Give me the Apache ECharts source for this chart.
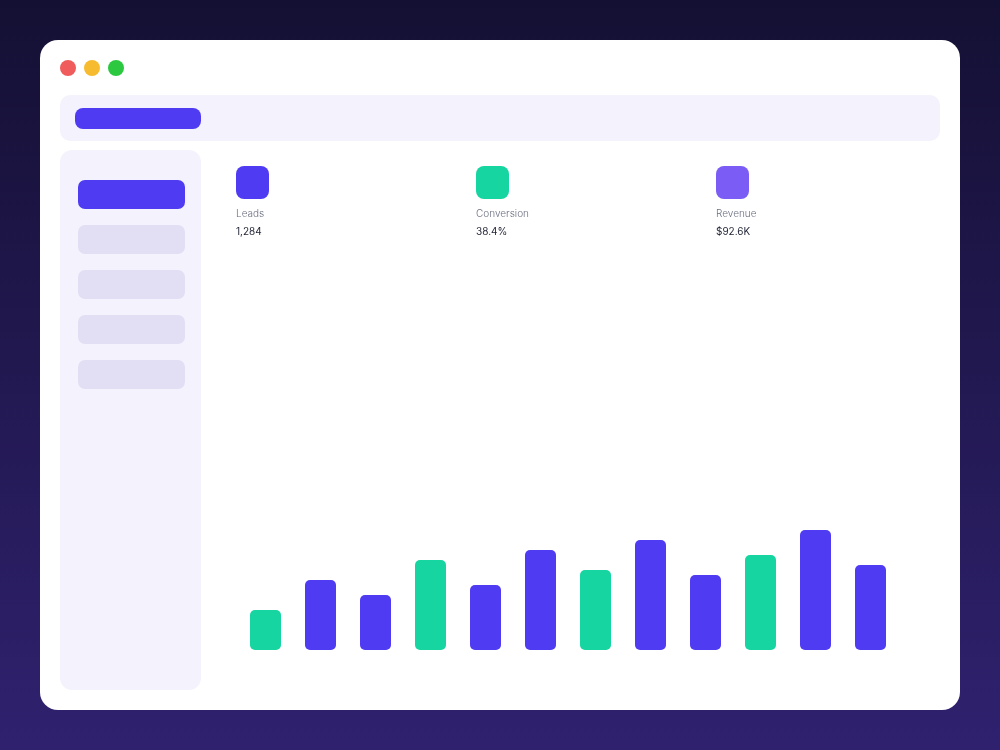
<!DOCTYPE html>
<html>
<head>
<meta charset="utf-8">
<script src="https://cdn.jsdelivr.net/npm/echarts@6/dist/echarts.min.js"></script>
<style>html,body{margin:0;padding:0;}#chart{width:1000px;height:750px;}</style>
</head>
<body>
<div id="chart"></div>
<script>
// bar data
var months = ['1', '2', '3', '4', '5', '6', '7', '8', '9', '10', '11', '12'];
var values = [40, 70, 55, 90, 65, 100, 80, 110, 75, 95, 120, 85];
// stat cards
var statLabels = ['Leads', 'Conversion', 'Revenue'];
var statValues = ['1,284', '38.4%', '$92.6K'];
var statColors = ['#4f3cf2', '#16d5a0', '#7b5cf5'];

var BLUE = '#4f3cf2', GREEN = '#16d5a0';

var graphic = [
    { type: 'rect', shape: { x: 40, y: 40, width: 920, height: 670, r: 18 }, style: { fill: '#ffffff' }, z: 0 },
    { type: 'circle', shape: { cx: 68, cy: 68, r: 8 }, style: { fill: '#f05b5b' } },
    { type: 'circle', shape: { cx: 92, cy: 68, r: 8 }, style: { fill: '#f6bb2f' } },
    { type: 'circle', shape: { cx: 116, cy: 68, r: 8 }, style: { fill: '#2cc840' } },
    { type: 'rect', shape: { x: 60, y: 95, width: 880, height: 46, r: 10 }, style: { fill: '#f4f3fd' } },
    { type: 'rect', shape: { x: 75, y: 108, width: 126, height: 21, r: 8 }, style: { fill: BLUE } },
    { type: 'rect', shape: { x: 60, y: 150, width: 141, height: 540, r: 12 }, style: { fill: '#f4f3fd' } }
];
for (var i = 0; i < 5; i++) {
    graphic.push({ type: 'rect', shape: { x: 78, y: 180 + i * 45, width: 107, height: 29, r: 7 },
        style: { fill: i === 0 ? BLUE : '#e2dff5' } });
}
statLabels.forEach(function(l, i) {
    var x = 236 + i * 240;
    graphic.push({ type: 'rect', shape: { x: x, y: 166, width: 33, height: 33, r: 8 }, style: { fill: statColors[i] } });
    graphic.push({ type: 'text', x: x, y: 209, style: { text: l, fill: '#6b6f80', font: '300 10px Inter' } });
    graphic.push({ type: 'text', x: x, y: 227, style: { text: statValues[i], fill: '#1f2233', font: '10px Inter' } });
});

var option = {
    backgroundColor: {
        type: 'linear', x: 0, y: 0, x2: 0, y2: 1,
        colorStops: [{ offset: 0, color: '#141033' }, { offset: 1, color: '#30216f' }]
    },
    graphic: graphic,
    grid: { left: 238, width: 660, top: 250, height: 400 },
    xAxis: { type: 'category', data: months, show: false },
    yAxis: { type: 'value', min: 0, max: 400, show: false },
    series: [{
        type: 'bar',
        barWidth: 31,
        z: 10,
        data: values.map(function(v, i) {
            return { value: v, itemStyle: { color: i % 3 === 0 ? GREEN : BLUE, borderRadius: 5 } };
        })
    }]
};
var myChart = echarts.init(document.getElementById('chart'));
myChart.setOption(option);
</script>
</body>
</html>
